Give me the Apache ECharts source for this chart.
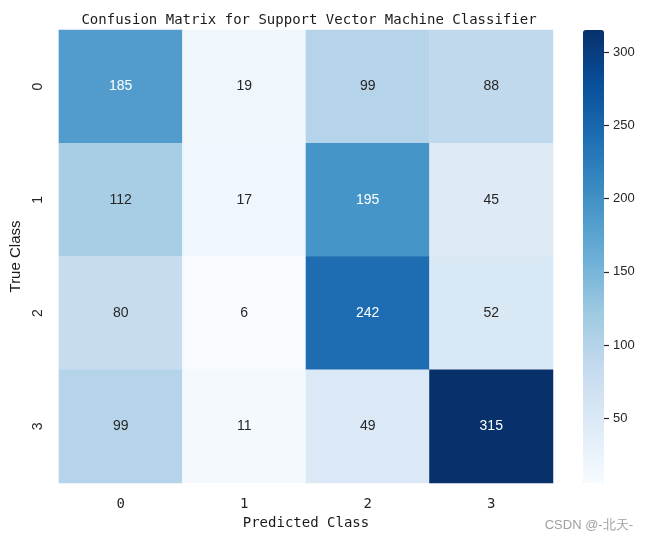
<!DOCTYPE html>
<html>
<head>
<meta charset="utf-8">
<script src="https://cdn.jsdelivr.net/npm/echarts@6/dist/echarts.min.js"></script>
<style>html,body{margin:0;padding:0;background:#fff;}#main{width:650px;height:538px;}</style>
</head>
<body>
<div id="main"></div>
<script>
const xCategories = ['0', '1', '2', '3'];
const yCategories = ['0', '1', '2', '3'];
const row0 = [185, 19, 99, 88];
const row1 = [112, 17, 195, 45];
const row2 = [80, 6, 242, 52];
const row3 = [99, 11, 49, 315];
const colorbarTicks = [50, 100, 150, 200, 250, 300];
const valueMin = 6;
const valueMax = 315;

const rows = [row0, row1, row2, row3];
const blues = ['#f7fbff', '#deebf7', '#c6dbef', '#9ecae1', '#6baed6', '#4292c6', '#2171b5', '#08519c', '#08306b'];
const data = [];
rows.forEach((r, yi) => r.forEach((v, xi) => {
  data.push({ value: [xi, yi, v], label: { color: v > 150 ? '#ffffff' : '#262626' } });
}));

const monoFont = 'DejaVu Sans Mono';
const sansFont = 'Liberation Sans';

const chart = echarts.init(document.getElementById('main'), null, { renderer: 'canvas' });
chart.setOption({
  backgroundColor: '#ffffff',
  animation: false,
  title: [{
    text: 'Confusion Matrix for Support Vector Machine Classifier',
    left: 304, top: 8, textAlign: 'center',
    textStyle: { fontFamily: monoFont, fontSize: 14, fontWeight: 'normal', color: '#1a1a1a' }
  }, {
    text: 'CSDN @-北天-',
    right: 12, top: 514,
    textStyle: { fontFamily: sansFont, fontSize: 13, fontWeight: 'normal', color: '#a0a0a0' }
  }],
  grid: [
    { left: 55, top: 30, width: 498, height: 453 },
    { left: 583, top: 30, width: 21, height: 453 }
  ],
  xAxis: [{
    type: 'category', data: xCategories, gridIndex: 0, position: 'bottom',
    axisLine: { show: false }, axisTick: { show: false }, splitLine: { show: false },
    axisLabel: { fontFamily: monoFont, fontSize: 14, color: '#262626', margin: 14 },
    name: 'Predicted Class', nameLocation: 'middle', nameGap: 31,
    nameTextStyle: { fontFamily: monoFont, fontSize: 14, color: '#1a1a1a' }
  }, {
    type: 'category', data: [''], gridIndex: 1, show: false
  }],
  yAxis: [{
    type: 'category', data: yCategories, gridIndex: 0, inverse: true,
    axisLine: { show: false }, axisTick: { show: false }, splitLine: { show: false },
    axisLabel: { fontFamily: sansFont, fontSize: 14, color: '#262626', rotate: 90, margin: 14 },
    name: 'True Class', nameLocation: 'middle', nameGap: 32, nameRotate: 90,
    nameTextStyle: { fontFamily: sansFont, fontSize: 15, color: '#1a1a1a' }
  }, {
    type: 'value', gridIndex: 1, position: 'right', min: valueMin, max: valueMax,
    axisLine: { show: false }, splitLine: { show: false },
    axisTick: { show: true, length: 5, lineStyle: { color: '#262626', width: 1.2 }, customValues: colorbarTicks },
    axisLabel: { fontFamily: sansFont, fontSize: 13, color: '#262626', margin: 9, customValues: colorbarTicks }
  }],
  visualMap: {
    type: 'continuous', min: valueMin, max: valueMax, seriesIndex: 0,
    calculable: false, realtime: false, text: null, showLabel: false,
    left: 583, top: 30, itemWidth: 21, itemHeight: 453, padding: 0,
    inRange: { color: blues },
    textStyle: { color: 'transparent' }
  },
  series: [{
    type: 'heatmap', xAxisIndex: 0, yAxisIndex: 0, data: data,
    label: { show: true, fontFamily: sansFont, fontSize: 14 },
    itemStyle: { borderWidth: 0 },
    emphasis: { disabled: true }
  }]
});
</script>
</body>
</html>
